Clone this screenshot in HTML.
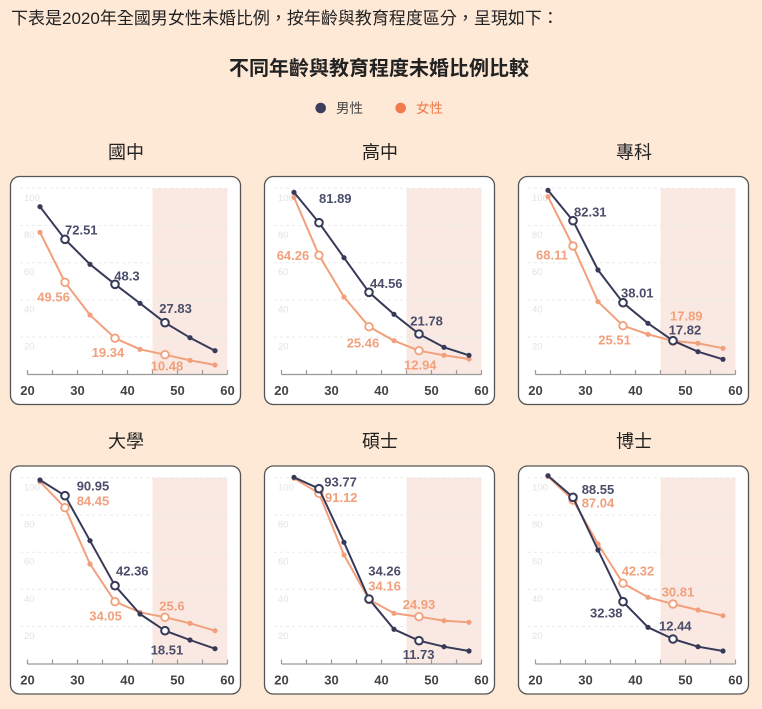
<!DOCTYPE html>
<html><head><meta charset="utf-8"><style>
html,body{margin:0;padding:0;background:#fee8d6;}
svg{display:block;}
.t{font-family:"Liberation Sans","Noto Sans CJK TC",sans-serif;}
.yl{font-family:"Liberation Sans",sans-serif;font-size:9.5px;fill:#e3e3e3;}
.xl{font-family:"Liberation Sans",sans-serif;font-size:13px;font-weight:bold;fill:#444;text-anchor:middle;}
.m{font-family:"Liberation Sans",sans-serif;font-size:13px;font-weight:bold;fill:#4a4e6a;}
.f{font-family:"Liberation Sans",sans-serif;font-size:13px;font-weight:bold;fill:#f2a07c;}
.ml{fill:none;stroke:#363a58;stroke-width:2;stroke-linejoin:round;}
.fl{fill:none;stroke:#f2a07c;stroke-width:2;stroke-linejoin:round;}
.md{fill:#363a58;}
.fd{fill:#f2a07c;}
.mh{fill:#fff;stroke:#363a58;stroke-width:2;}
.fh{fill:#fff;stroke:#f2a07c;stroke-width:1.8;}
.gr{stroke:#ebebeb;stroke-width:1;stroke-dasharray:3,3;}
</style></head><body>
<svg width="762" height="709" viewBox="0 0 762 709" xmlns="http://www.w3.org/2000/svg">
<rect x="0" y="0" width="762" height="709" fill="#fee8d6"/>
<text class="t" x="11" y="24" font-size="17" fill="#222">下表是2020年全國男女性未婚比例，按年齡與教育程度區分，呈現如下：</text>
<text class="t" x="379" y="75" font-size="20" font-weight="bold" fill="#222" text-anchor="middle">不同年齡與教育程度未婚比例比較</text>
<circle cx="320.7" cy="108" r="5.3" fill="#3a3e5c"/>
<text class="t" x="336" y="113" font-size="13.5" fill="#444">男性</text>
<circle cx="400.7" cy="108" r="5.3" fill="#f07a4a"/>
<text class="t" x="416" y="113" font-size="13.5" fill="#f07a4a">女性</text>

<text class="t" x="126" y="158.5" font-size="18" fill="#222" text-anchor="middle">國中</text>
<text class="t" x="380" y="158.5" font-size="18" fill="#222" text-anchor="middle">高中</text>
<text class="t" x="634" y="158.5" font-size="18" fill="#222" text-anchor="middle">專科</text>
<text class="t" x="126" y="447.5" font-size="18" fill="#222" text-anchor="middle">大學</text>
<text class="t" x="380" y="447.5" font-size="18" fill="#222" text-anchor="middle">碩士</text>
<text class="t" x="634" y="447.5" font-size="18" fill="#222" text-anchor="middle">博士</text>

<!-- Panel frames -->
<g transform="translate(0,0)">
<rect x="10.5" y="176.5" width="230" height="228" rx="9" fill="#fff" stroke="#555" stroke-width="1.3"/>
<rect x="152.5" y="188.3" width="75" height="186" fill="#f9e9e2"/>
<line class="gr" x1="20" y1="188.3" x2="227.5" y2="188.3"/><line class="gr" x1="20" y1="225.5" x2="227.5" y2="225.5"/><line class="gr" x1="20" y1="262.7" x2="227.5" y2="262.7"/><line class="gr" x1="20" y1="299.8" x2="227.5" y2="299.8"/><line class="gr" x1="20" y1="337" x2="227.5" y2="337"/>
<text class="yl" x="24" y="200.8">100</text><text class="yl" x="24" y="238">80</text><text class="yl" x="24" y="275.2">60</text><text class="yl" x="24" y="312.3">40</text><text class="yl" x="24" y="349.5">20</text>
<line x1="27.5" y1="374.5" x2="227.5" y2="374.5" stroke="#999" stroke-width="1.2"/>
<path d="M27.5 370V374.5M52.5 370V374.5M77.5 370V374.5M102.5 370V374.5M127.5 370V374.5M152.5 370V374.5M177.5 370V374.5M202.5 370V374.5M227.5 370V374.5" stroke="#999" stroke-width="1.2"/>
<text class="xl" x="27.5" y="395">20</text><text class="xl" x="77.5" y="395">30</text><text class="xl" x="127.5" y="395">40</text><text class="xl" x="177.5" y="395">50</text><text class="xl" x="227.5" y="395">60</text>
</g>
<g transform="translate(254,0)">
<rect x="10.5" y="176.5" width="230" height="228" rx="9" fill="#fff" stroke="#555" stroke-width="1.3"/>
<rect x="152.5" y="188.3" width="75" height="186" fill="#f9e9e2"/>
<line class="gr" x1="20" y1="188.3" x2="227.5" y2="188.3"/><line class="gr" x1="20" y1="225.5" x2="227.5" y2="225.5"/><line class="gr" x1="20" y1="262.7" x2="227.5" y2="262.7"/><line class="gr" x1="20" y1="299.8" x2="227.5" y2="299.8"/><line class="gr" x1="20" y1="337" x2="227.5" y2="337"/>
<text class="yl" x="24" y="200.8">100</text><text class="yl" x="24" y="238">80</text><text class="yl" x="24" y="275.2">60</text><text class="yl" x="24" y="312.3">40</text><text class="yl" x="24" y="349.5">20</text>
<line x1="27.5" y1="374.5" x2="227.5" y2="374.5" stroke="#999" stroke-width="1.2"/>
<path d="M27.5 370V374.5M52.5 370V374.5M77.5 370V374.5M102.5 370V374.5M127.5 370V374.5M152.5 370V374.5M177.5 370V374.5M202.5 370V374.5M227.5 370V374.5" stroke="#999" stroke-width="1.2"/>
<text class="xl" x="27.5" y="395">20</text><text class="xl" x="77.5" y="395">30</text><text class="xl" x="127.5" y="395">40</text><text class="xl" x="177.5" y="395">50</text><text class="xl" x="227.5" y="395">60</text>
</g>
<g transform="translate(508,0)">
<rect x="10.5" y="176.5" width="230" height="228" rx="9" fill="#fff" stroke="#555" stroke-width="1.3"/>
<rect x="152.5" y="188.3" width="75" height="186" fill="#f9e9e2"/>
<line class="gr" x1="20" y1="188.3" x2="227.5" y2="188.3"/><line class="gr" x1="20" y1="225.5" x2="227.5" y2="225.5"/><line class="gr" x1="20" y1="262.7" x2="227.5" y2="262.7"/><line class="gr" x1="20" y1="299.8" x2="227.5" y2="299.8"/><line class="gr" x1="20" y1="337" x2="227.5" y2="337"/>
<text class="yl" x="24" y="200.8">100</text><text class="yl" x="24" y="238">80</text><text class="yl" x="24" y="275.2">60</text><text class="yl" x="24" y="312.3">40</text><text class="yl" x="24" y="349.5">20</text>
<line x1="27.5" y1="374.5" x2="227.5" y2="374.5" stroke="#999" stroke-width="1.2"/>
<path d="M27.5 370V374.5M52.5 370V374.5M77.5 370V374.5M102.5 370V374.5M127.5 370V374.5M152.5 370V374.5M177.5 370V374.5M202.5 370V374.5M227.5 370V374.5" stroke="#999" stroke-width="1.2"/>
<text class="xl" x="27.5" y="395">20</text><text class="xl" x="77.5" y="395">30</text><text class="xl" x="127.5" y="395">40</text><text class="xl" x="177.5" y="395">50</text><text class="xl" x="227.5" y="395">60</text>
</g>
<g transform="translate(0,289.5)">
<rect x="10.5" y="176.5" width="230" height="228" rx="9" fill="#fff" stroke="#555" stroke-width="1.3"/>
<rect x="152.5" y="188.3" width="75" height="186" fill="#f9e9e2"/>
<line class="gr" x1="20" y1="188.3" x2="227.5" y2="188.3"/><line class="gr" x1="20" y1="225.5" x2="227.5" y2="225.5"/><line class="gr" x1="20" y1="262.7" x2="227.5" y2="262.7"/><line class="gr" x1="20" y1="299.8" x2="227.5" y2="299.8"/><line class="gr" x1="20" y1="337" x2="227.5" y2="337"/>
<text class="yl" x="24" y="200.8">100</text><text class="yl" x="24" y="238">80</text><text class="yl" x="24" y="275.2">60</text><text class="yl" x="24" y="312.3">40</text><text class="yl" x="24" y="349.5">20</text>
<line x1="27.5" y1="374.5" x2="227.5" y2="374.5" stroke="#999" stroke-width="1.2"/>
<path d="M27.5 370V374.5M52.5 370V374.5M77.5 370V374.5M102.5 370V374.5M127.5 370V374.5M152.5 370V374.5M177.5 370V374.5M202.5 370V374.5M227.5 370V374.5" stroke="#999" stroke-width="1.2"/>
<text class="xl" x="27.5" y="395">20</text><text class="xl" x="77.5" y="395">30</text><text class="xl" x="127.5" y="395">40</text><text class="xl" x="177.5" y="395">50</text><text class="xl" x="227.5" y="395">60</text>
</g>
<g transform="translate(254,289.5)">
<rect x="10.5" y="176.5" width="230" height="228" rx="9" fill="#fff" stroke="#555" stroke-width="1.3"/>
<rect x="152.5" y="188.3" width="75" height="186" fill="#f9e9e2"/>
<line class="gr" x1="20" y1="188.3" x2="227.5" y2="188.3"/><line class="gr" x1="20" y1="225.5" x2="227.5" y2="225.5"/><line class="gr" x1="20" y1="262.7" x2="227.5" y2="262.7"/><line class="gr" x1="20" y1="299.8" x2="227.5" y2="299.8"/><line class="gr" x1="20" y1="337" x2="227.5" y2="337"/>
<text class="yl" x="24" y="200.8">100</text><text class="yl" x="24" y="238">80</text><text class="yl" x="24" y="275.2">60</text><text class="yl" x="24" y="312.3">40</text><text class="yl" x="24" y="349.5">20</text>
<line x1="27.5" y1="374.5" x2="227.5" y2="374.5" stroke="#999" stroke-width="1.2"/>
<path d="M27.5 370V374.5M52.5 370V374.5M77.5 370V374.5M102.5 370V374.5M127.5 370V374.5M152.5 370V374.5M177.5 370V374.5M202.5 370V374.5M227.5 370V374.5" stroke="#999" stroke-width="1.2"/>
<text class="xl" x="27.5" y="395">20</text><text class="xl" x="77.5" y="395">30</text><text class="xl" x="127.5" y="395">40</text><text class="xl" x="177.5" y="395">50</text><text class="xl" x="227.5" y="395">60</text>
</g>
<g transform="translate(508,289.5)">
<rect x="10.5" y="176.5" width="230" height="228" rx="9" fill="#fff" stroke="#555" stroke-width="1.3"/>
<rect x="152.5" y="188.3" width="75" height="186" fill="#f9e9e2"/>
<line class="gr" x1="20" y1="188.3" x2="227.5" y2="188.3"/><line class="gr" x1="20" y1="225.5" x2="227.5" y2="225.5"/><line class="gr" x1="20" y1="262.7" x2="227.5" y2="262.7"/><line class="gr" x1="20" y1="299.8" x2="227.5" y2="299.8"/><line class="gr" x1="20" y1="337" x2="227.5" y2="337"/>
<text class="yl" x="24" y="200.8">100</text><text class="yl" x="24" y="238">80</text><text class="yl" x="24" y="275.2">60</text><text class="yl" x="24" y="312.3">40</text><text class="yl" x="24" y="349.5">20</text>
<line x1="27.5" y1="374.5" x2="227.5" y2="374.5" stroke="#999" stroke-width="1.2"/>
<path d="M27.5 370V374.5M52.5 370V374.5M77.5 370V374.5M102.5 370V374.5M127.5 370V374.5M152.5 370V374.5M177.5 370V374.5M202.5 370V374.5M227.5 370V374.5" stroke="#999" stroke-width="1.2"/>
<text class="xl" x="27.5" y="395">20</text><text class="xl" x="77.5" y="395">30</text><text class="xl" x="127.5" y="395">40</text><text class="xl" x="177.5" y="395">50</text><text class="xl" x="227.5" y="395">60</text>
</g>

<!-- Panel 1 國中 -->
<polyline class="fl" points="40,232.3 65,282.3 90,315 115,338.2 140,349.3 165,354.7 190,360.3 215,365"/>
<circle class="fd" cx="40" cy="232.3" r="2.6"/><circle class="fd" cx="90" cy="315" r="2.6"/><circle class="fd" cx="140" cy="349.3" r="2.6"/><circle class="fd" cx="190" cy="360.3" r="2.6"/><circle class="fd" cx="215" cy="365" r="2.6"/>
<circle class="fh" cx="65" cy="282.3" r="3.8"/><circle class="fh" cx="115" cy="338.2" r="3.8"/><circle class="fh" cx="165" cy="354.7" r="3.8"/>
<polyline class="ml" points="40,206.7 65,239.3 90,264.3 115,284.3 140,303.3 165,322.7 190,337.7 215,350.7"/>
<circle class="md" cx="40" cy="206.7" r="2.6"/><circle class="md" cx="90" cy="264.3" r="2.6"/><circle class="md" cx="140" cy="303.3" r="2.6"/><circle class="md" cx="190" cy="337.7" r="2.6"/><circle class="md" cx="215" cy="350.7" r="2.6"/>
<circle class="mh" cx="65" cy="239.3" r="3.8"/><circle class="mh" cx="115" cy="284.3" r="3.8"/><circle class="mh" cx="165" cy="322.7" r="3.8"/>
<text class="m" x="65" y="234.7">72.51</text><text class="m" x="114.3" y="280.7">48.3</text><text class="m" x="159.3" y="313">27.83</text>
<text class="f" x="37.3" y="301.4">49.56</text><text class="f" x="91.7" y="357">19.34</text><text class="f" x="150.7" y="370.7">10.48</text>

<!-- Panel 2 高中 -->
<polyline class="fl" points="294,197.3 319,255.3 344,297 369,326.7 394,340.7 419,350.7 444,355.3 469,359"/>
<circle class="fd" cx="294" cy="197.3" r="2.6"/><circle class="fd" cx="344" cy="297" r="2.6"/><circle class="fd" cx="394" cy="340.7" r="2.6"/><circle class="fd" cx="444" cy="355.3" r="2.6"/><circle class="fd" cx="469" cy="359" r="2.6"/>
<circle class="fh" cx="319" cy="255.3" r="3.8"/><circle class="fh" cx="369" cy="326.7" r="3.8"/><circle class="fh" cx="419" cy="350.7" r="3.8"/>
<polyline class="ml" points="294,192.3 319,222.7 344,257.7 369,292.3 394,314.3 419,334 444,347.3 469,355.3"/>
<circle class="md" cx="294" cy="192.3" r="2.6"/><circle class="md" cx="344" cy="257.7" r="2.6"/><circle class="md" cx="394" cy="314.3" r="2.6"/><circle class="md" cx="444" cy="347.3" r="2.6"/><circle class="md" cx="469" cy="355.3" r="2.6"/>
<circle class="mh" cx="319" cy="222.7" r="3.8"/><circle class="mh" cx="369" cy="292.3" r="3.8"/><circle class="mh" cx="419" cy="334" r="3.8"/>
<text class="m" x="319" y="203">81.89</text><text class="m" x="370" y="288">44.56</text><text class="m" x="410.3" y="325.4">21.78</text>
<text class="f" x="276.7" y="260">64.26</text><text class="f" x="346.7" y="347.4">25.46</text><text class="f" x="404" y="369.7">12.94</text>

<!-- Panel 3 專科 -->
<polyline class="fl" points="548,196.7 573,246 598,301.7 623,325.7 648,334.3 673,341 698,343.3 723,348.3"/>
<circle class="fd" cx="548" cy="196.7" r="2.6"/><circle class="fd" cx="598" cy="301.7" r="2.6"/><circle class="fd" cx="648" cy="334.3" r="2.6"/><circle class="fd" cx="698" cy="343.3" r="2.6"/><circle class="fd" cx="723" cy="348.3" r="2.6"/>
<circle class="fh" cx="573" cy="246" r="3.8"/><circle class="fh" cx="623" cy="325.7" r="3.8"/><circle class="fh" cx="673" cy="341" r="3.8"/>
<polyline class="ml" points="548,190.3 573,220.7 598,270 623,302.7 648,323.3 673,340.7 698,351.7 723,359.3"/>
<circle class="md" cx="548" cy="190.3" r="2.6"/><circle class="md" cx="598" cy="270" r="2.6"/><circle class="md" cx="648" cy="323.3" r="2.6"/><circle class="md" cx="698" cy="351.7" r="2.6"/><circle class="md" cx="723" cy="359.3" r="2.6"/>
<circle class="mh" cx="573" cy="220.7" r="3.8"/><circle class="mh" cx="623" cy="302.7" r="3.8"/><circle class="mh" cx="673" cy="340.7" r="3.8"/>
<text class="m" x="574" y="216.4">82.31</text><text class="m" x="621" y="297.4">38.01</text><text class="m" x="668.7" y="334.7">17.82</text>
<text class="f" x="536" y="259.7">68.11</text><text class="f" x="598.3" y="344.7">25.51</text><text class="f" x="670" y="320.4">17.89</text>

<!-- Panel 4 大學 -->
<polyline class="fl" points="40,481.7 65,507.7 90,564 115,601.7 140,612.3 165,617.3 190,623.3 215,630.7"/>
<circle class="fd" cx="40" cy="481.7" r="2.6"/><circle class="fd" cx="90" cy="564" r="2.6"/><circle class="fd" cx="140" cy="612.3" r="2.6"/><circle class="fd" cx="190" cy="623.3" r="2.6"/><circle class="fd" cx="215" cy="630.7" r="2.6"/>
<circle class="fh" cx="65" cy="507.7" r="3.8"/><circle class="fh" cx="115" cy="601.7" r="3.8"/><circle class="fh" cx="165" cy="617.3" r="3.8"/>
<polyline class="ml" points="40,480 65,495.7 90,540.7 115,585.7 140,614 165,630.7 190,640 215,648.7"/>
<circle class="md" cx="40" cy="480" r="2.6"/><circle class="md" cx="90" cy="540.7" r="2.6"/><circle class="md" cx="140" cy="614" r="2.6"/><circle class="md" cx="190" cy="640" r="2.6"/><circle class="md" cx="215" cy="648.7" r="2.6"/>
<circle class="mh" cx="65" cy="495.7" r="3.8"/><circle class="mh" cx="115" cy="585.7" r="3.8"/><circle class="mh" cx="165" cy="630.7" r="3.8"/>
<text class="m" x="76.7" y="490.4">90.95</text><text class="f" x="76.7" y="505.7">84.45</text>
<text class="m" x="116" y="575.4">42.36</text><text class="f" x="89.3" y="620.7">34.05</text>
<text class="f" x="159.3" y="610.7">25.6</text><text class="m" x="150.7" y="654.7">18.51</text>

<!-- Panel 5 碩士 -->
<polyline class="fl" points="294,478.3 319,493.3 344,555 369,599.5 394,613.3 419,616.7 444,620.7 469,622.3"/>
<circle class="fd" cx="294" cy="478.3" r="2.6"/><circle class="fd" cx="344" cy="555" r="2.6"/><circle class="fd" cx="394" cy="613.3" r="2.6"/><circle class="fd" cx="444" cy="620.7" r="2.6"/><circle class="fd" cx="469" cy="622.3" r="2.6"/>
<circle class="fh" cx="319" cy="493.3" r="3.8"/><circle class="fh" cx="369" cy="599.5" r="3.8"/><circle class="fh" cx="419" cy="616.7" r="3.8"/>
<polyline class="ml" points="294,477.3 319,488.7 344,542.3 369,599 394,629.3 419,640.7 444,646.7 469,651"/>
<circle class="md" cx="294" cy="477.3" r="2.6"/><circle class="md" cx="344" cy="542.3" r="2.6"/><circle class="md" cx="394" cy="629.3" r="2.6"/><circle class="md" cx="444" cy="646.7" r="2.6"/><circle class="md" cx="469" cy="651" r="2.6"/>
<circle class="mh" cx="319" cy="488.7" r="3.8"/><circle class="mh" cx="369" cy="599" r="3.8"/><circle class="mh" cx="419" cy="640.7" r="3.8"/>
<text class="m" x="324.3" y="486.4">93.77</text><text class="f" x="325" y="502">91.12</text>
<text class="m" x="368.3" y="575.4">34.26</text><text class="f" x="368.3" y="590.4">34.16</text>
<text class="f" x="402.7" y="609">24.93</text><text class="m" x="402.7" y="659">11.73</text>

<!-- Panel 6 博士 -->
<polyline class="fl" points="548,476.5 573,500 598,544 623,583.3 648,597.3 673,604 698,610 723,615.7"/>
<circle class="fd" cx="548" cy="476.5" r="2.6"/><circle class="fd" cx="598" cy="544" r="2.6"/><circle class="fd" cx="648" cy="597.3" r="2.6"/><circle class="fd" cx="698" cy="610" r="2.6"/><circle class="fd" cx="723" cy="615.7" r="2.6"/>
<circle class="fh" cx="573" cy="500" r="3.8"/><circle class="fh" cx="623" cy="583.3" r="3.8"/><circle class="fh" cx="673" cy="604" r="3.8"/>
<polyline class="ml" points="548,475.7 573,497.3 598,550 623,601.7 648,627.3 673,639 698,646.7 723,651"/>
<circle class="md" cx="548" cy="475.7" r="2.6"/><circle class="md" cx="598" cy="550" r="2.6"/><circle class="md" cx="648" cy="627.3" r="2.6"/><circle class="md" cx="698" cy="646.7" r="2.6"/><circle class="md" cx="723" cy="651" r="2.6"/>
<circle class="mh" cx="573" cy="497.3" r="3.8"/><circle class="mh" cx="623" cy="601.7" r="3.8"/><circle class="mh" cx="673" cy="639" r="3.8"/>
<text class="m" x="581.7" y="494">88.55</text><text class="f" x="581.7" y="507.4">87.04</text>
<text class="f" x="621.7" y="575.7">42.32</text><text class="f" x="661.7" y="596.4">30.81</text>
<text class="m" x="590" y="617.4">32.38</text><text class="m" x="659" y="630.4">12.44</text>
</svg>
</body></html>
